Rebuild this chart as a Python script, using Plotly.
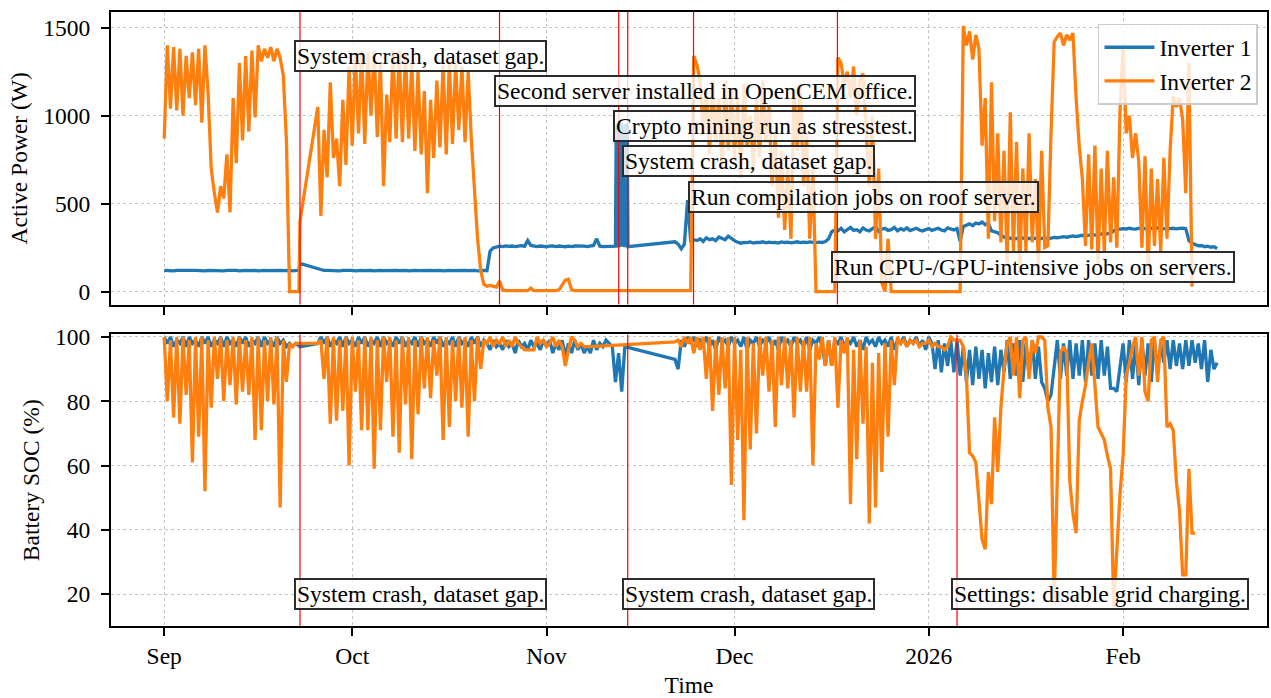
import pandas as pd
import plotly.graph_objects as go

# ---------------------------------------------------------------------------
# Measurements, 12-hourly samples unless noted. Each block starts at its own
# timestamp; gaps between blocks are dataset gaps after system crashes.
# ---------------------------------------------------------------------------

# Inverter 1 active power (W)
p1_a = [121, 119, 120, 118, 121, 120, 119, 121, 118, 120, 121, 119, 120, 118, 121, 120,
        119, 121, 120, 118, 120, 121, 119, 120, 118, 121, 120, 119, 121, 120, 118, 120,
        121, 119, 120, 118, 121, 120, 119, 121, 120, 118, 120, 121]
p1_crash = [160]
p1_b = [130, 124, 120,
        120, 119, 121, 120, 118, 120, 121, 119, 120, 118, 121, 120, 119, 121, 120, 118,
        120, 121, 119, 120, 118, 121, 120, 119, 121, 120, 118, 120, 121, 119, 120, 118,
        121, 120, 119, 121, 120, 118, 120, 121, 119, 120, 118, 121, 120, 119, 121, 120,
        118, 120, 121, 119,
        230,
        248, 255, 258, 256, 260, 257, 259, 256, 258, 261, 257, 290, 262, 258, 256, 259,
        257, 255, 258, 260, 256, 259, 257, 255, 258, 256, 259, 260, 257, 258, 256, 259,
        262, 300, 258, 256]
# crypto mining stress test, 3-hourly samples
p1_crypto = [258, 950, 262, 955, 250, 945, 260, 960, 255, 950, 258, 940, 252, 955, 260, 950, 255]
p1_c = [283, 270, 243, 270, 520, 290,
        295, 290, 300, 285, 305, 295, 300, 290, 310, 300, 295, 315, 300, 290,
        280, 275, 280, 278, 282, 276, 280, 279, 283, 277, 281, 278, 280, 276, 282, 279,
        281, 277, 280, 283, 278, 281, 279, 282, 280, 278, 281, 279,
        285, 300, 340,
        350, 345, 360, 340, 355, 365, 348, 352, 340, 362, 350, 345, 358, 370, 342, 355,
        360, 348, 352, 365, 345, 358, 350, 362, 347, 355, 360, 350, 345, 352, 358, 348,
        355, 360, 350, 345, 362, 355, 350, 358,
        285,
        370, 380, 385, 375, 390, 385, 395, 380, 390,
        345, 340, 335, 320, 310, 300, 305, 298, 302, 300, 305, 299, 303, 300, 304, 298,
        302, 305, 300,
        305, 308, 306, 310, 312, 309, 314, 316, 313, 318, 320, 317, 322, 324, 321, 326,
        328, 325, 330, 332,
        345, 357, 355, 358, 356, 360, 357, 355, 359, 362, 358, 356, 360, 358, 362, 359,
        357, 361, 358, 360, 357, 359, 361, 358,
        290, 275, 265, 260, 262, 255, 258, 252, 255, 245]

# Inverter 2 active power (W)
p2_a = [870, 1400, 1040, 1390, 1030, 1380, 1000, 1340, 1100, 1360, 1060, 1380, 960, 1400,
        1130, 700, 560, 450, 600, 530, 780, 450, 1100, 730, 1300, 860, 1340, 910, 1370,
        990, 1400, 1310, 1380, 1330, 1390, 1310, 1380, 1330, 1230, 860, 0, 0, 0, 0]
p2_crash = [400]
p2_b = [1050, 430, 920, 650, 1190, 760, 870, 600, 1090, 720, 1280, 830, 1350, 900, 1370,
        840, 1360, 1000, 1370, 880, 1300, 600, 1120, 850, 1370, 870, 1370, 850, 1360, 870,
        1300, 800, 1250, 780, 1140, 560, 1090, 760, 1200, 820, 1290, 780, 1310, 840, 1300,
        920, 1280, 850, 1250, 870, 600, 300, 120, 40, 30, 35, 30, 25, 60,
        10, 5, 5, 5, 5, 5, 5, 5, 5, 20, 5, 5, 5, 5, 5, 5, 5, 5, 10, 35, 65, 70, 10, 5,
        5, 5, 5, 5, 5, 5, 5, 5, 5, 5, 5, 5, 5, 5, 5, 5]
p2_c = [5, 5, 5, 5, 5, 5,
        1340, 1290, 1200, 900, 1150, 780, 1200, 850, 1100, 700, 1200, 800, 1150, 750, 1100,
        650, 1180, 820, 1000, 700, 1100, 760, 1200, 850, 1050, 600, 900, 420, 800, 350,
        700, 300, 1150, 800, 1180, 600, 900, 300, 700,
        0, 0, 0, 0, 0, 0, 0,
        1330, 1300, 1180, 1250, 1100, 1280, 1000, 1200, 1240, 900, 600, 1000, 300, 700,
        50, 0, 300,
        0, 0, 0, 0, 0, 0, 0, 0, 0, 0, 0, 0, 0, 0, 0, 0, 0, 0, 0, 0, 0, 0, 0,
        1510, 1400, 1480, 1320, 1460, 1380, 830, 1100, 300, 1190, 400, 900, 280, 800, 160,
        1020, 230, 850, 110, 700, 230, 900, 280, 640, 150, 800, 250, 260, 900, 1420,
        1450, 1470, 1400, 1460, 1430, 1470, 1100, 830, 640, 260, 780, 240, 830, 160, 700,
        230, 800, 280, 650, 250, 1020, 1400, 900, 1000, 760, 900, 740, 250, 770, 130,
        700, 260, 640, 230, 760, 300, 800, 1110, 1050, 1100, 980, 560, 1300, 28]

# Inverter 1 battery state of charge (%)
s1_a = [100, 98, 100, 97, 99, 98, 100, 97, 100, 98, 99, 97, 100, 98, 100, 97, 99, 98, 100,
        97, 100, 98, 99, 97, 100, 98, 100, 97, 99, 98, 100, 97, 100, 98, 99, 97, 100, 98,
        99, 97, 98, 97, 98, 97]
s1_crash = [97]
s1_b = [98, 100, 98, 100, 97, 99, 98, 100, 97, 100, 98, 99, 97, 100, 98, 100, 97, 99, 98,
        100, 97, 100, 98, 99, 97, 100, 98, 100, 97, 99, 98, 100, 97, 100, 98, 99, 97, 100,
        98, 100, 97, 99, 98, 100, 97, 100, 98, 99, 97, 100, 98, 100, 97, 99,
        98, 96, 99, 97, 98, 96, 99, 97, 98, 95, 99, 97, 98, 96, 99, 97, 98, 96, 99, 97,
        99, 95, 98, 96, 99, 94, 98, 95, 99, 96, 98, 95, 97, 95, 99, 96, 98, 97, 99, 98,
        97, 86, 95, 83, 97]
s1_c = [93, 90, 99, 97, 100, 98,
        100, 97, 99, 98, 100, 97, 99, 96, 100, 98, 99, 97, 100, 98, 99, 97, 100, 96, 99,
        98, 100, 97, 99, 98, 100, 97, 99, 96, 100, 98, 99, 97, 100, 98, 99, 97, 100, 96,
        99, 98, 100, 97,
        91, 99, 91, 99,
        98, 100, 97, 99, 98, 100, 97, 99, 96, 100, 98, 99, 97, 100, 98, 99, 97, 100, 96,
        99, 98, 100, 97, 99, 98, 100, 97, 99, 96, 100, 98,
        90, 99, 89, 98, 91, 99, 89, 99, 88, 97, 86, 96, 85, 97, 87, 96, 84, 95, 86, 97,
        85, 96, 89, 99, 87, 98, 88, 99, 86, 98, 88, 99, 87, 97, 86, 84, 80, 82, 90, 99,
        87, 98, 88, 99, 87, 98, 88, 99, 86, 99, 88, 98, 87, 99, 88, 97, 84, 84, 83, 90,
        98, 86, 99, 87, 98, 85, 99, 88, 98, 86, 99, 89, 98, 92, 99, 90, 99, 91, 98, 90,
        99, 91, 99, 92, 98, 90, 99, 86, 96, 90, 92]

# Inverter 2 battery state of charge (%)
s2_a = [100, 80, 99, 75, 100, 73, 100, 82, 99, 61, 100, 69, 100, 52, 99, 78, 100, 87, 100,
        80, 99, 85, 100, 79, 100, 83, 99, 82, 100, 68, 100, 71, 99, 80, 100, 79, 100, 47,
        99, 86, 98, 97, 98, 98]
s2_crash = [98]
s2_b = [98, 99, 87, 100, 73, 100, 74, 99, 77, 100, 60, 100, 83, 99, 71, 100, 71, 100, 59,
        99, 71, 100, 86, 100, 69, 99, 64, 100, 79, 100, 62, 99, 76, 100, 84, 100, 81, 99,
        88, 100, 68, 100, 72, 99, 80, 100, 78, 100, 69, 99, 80, 100, 90, 99,
        98, 100, 97, 99, 98, 100, 97, 99, 97, 100, 98, 97, 96, 96, 96, 96, 100, 98, 99,
        97, 98, 100, 97, 99, 97, 91, 96, 100, 99, 97, 98, 97, 97, 97]
s2_c = [98.5, 99, 97, 100, 98, 100, 95, 100, 96, 100, 87, 100, 77, 99, 82, 100, 84, 100,
        54, 100, 68, 96, 43, 100, 65, 98, 70, 100, 88, 100, 83, 99, 72, 100, 85, 100, 84,
        99, 75, 100, 83, 99, 83, 100, 60, 98, 93, 100, 91, 99, 91, 100, 78, 99, 95, 100,
        48, 96, 62, 99, 73, 97, 42, 92, 47, 95, 58, 98, 69, 99, 85, 100, 98, 99, 97, 99,
        98, 99, 97, 98, 98, 99, 97, 98, 97, 97, 96, 97, 100, 99,
        99, 99, 97, 88, 64, 63, 61, 48, 37, 34, 58, 48, 75, 58, 78, 90, 98, 100, 88, 100,
        81, 99, 100, 87, 99, 95, 100,
        100, 99, 78, 72, 17, 60, 95, 97, 95, 55, 45, 39, 74, 80, 85, 92, 98, 85, 72, 70,
        68, 63, 59, 16, 35, 51, 63, 88, 92, 97, 100, 88, 100, 83, 80, 99, 100, 86, 99,
        100, 72, 73, 71, 55, 46, 26, 26, 59, 39, 39]

# Block start times (sampling period in hours)
power1_blocks = [("2025-09-01 00:00", 12, p1_a), ("2025-09-22 16:00", 12, p1_crash),
                 ("2025-09-25 12:00", 12, p1_b), ("2025-11-12 00:00", 3, p1_crypto),
                 ("2025-11-21 12:00", 12, p1_c)]
power2_blocks = [("2025-09-01 00:00", 12, p2_a), ("2025-09-22 16:00", 12, p2_crash),
                 ("2025-09-25 12:00", 12, p2_b), ("2025-11-21 12:00", 12, p2_c)]
soc1_blocks = [("2025-09-01 00:00", 12, s1_a), ("2025-09-22 16:00", 12, s1_crash),
               ("2025-09-25 12:00", 12, s1_b), ("2025-11-21 12:00", 12, s1_c)]
soc2_blocks = [("2025-09-01 00:00", 12, s2_a), ("2025-09-22 16:00", 12, s2_crash),
               ("2025-09-25 12:00", 12, s2_b), ("2025-11-21 12:00", 12, s2_c)]

# Events
power_events = [("2025-09-22 16:00", 1340, "System crash, dataset gap."),
                ("2025-10-24 12:00", 1140, "Second server installed in OpenCEM office."),
                ("2025-11-12 12:30", 940, "Crypto mining run as stresstest."),
                ("2025-11-13 23:00", 740, "System crash, dataset gap."),
                ("2025-11-24 11:00", 540, "Run compilation jobs on roof server."),
                ("2025-12-17 10:00", 140, "Run CPU-/GPU-intensive jobs on servers.")]
soc_events = [("2025-09-22 16:00", 20, "System crash, dataset gap."),
              ("2025-11-13 23:00", 20, "System crash, dataset gap."),
              ("2026-01-05 12:00", 20, "Settings: disable grid charging.")]

month_ticks = ["2025-09-01", "2025-10-01", "2025-11-01", "2025-12-01", "2026-01-01", "2026-02-01"]
month_labels = ["Sep", "Oct", "Nov", "Dec", "2026", "Feb"]

BLUE = "#1f77b4"
ORANGE = "#ff7f0e"
FONT = "Liberation Serif"
FS = 23.5


def series(blocks):
    xs, ys = [], []
    for start, hours, vals in blocks:
        t = pd.date_range(start, periods=len(vals), freq=f"{hours}h")
        xs.extend(t)
        ys.extend(vals)
    return xs, ys


fig = go.Figure()
for blocks, name, color, ax, show in [
    (power1_blocks, "Inverter 1", BLUE, "", True),
    (power2_blocks, "Inverter 2", ORANGE, "", True),
    (soc1_blocks, "Inverter 1", BLUE, "2", False),
    (soc2_blocks, "Inverter 2", ORANGE, "2", False),
]:
    x, y = series(blocks)
    fig.add_trace(go.Scatter(x=x, y=y, mode="lines", name=name, showlegend=show,
                             line=dict(color=color, width=3.3),
                             xaxis="x" + ax, yaxis="y" + ax))

t0 = pd.Timestamp("2025-09-01")
x_range = [t0 - pd.Timedelta(days=8.49), t0 + pd.Timedelta(days=175.96)]

annotations = []
shapes = []
for events, ax in [(power_events, ""), (soc_events, "2")]:
    for when, yv, text in events:
        shapes.append(dict(type="line", xref="x" + ax, yref=f"y{ax} domain",
                           x0=when, x1=when, y0=0, y1=1,
                           line=dict(color="#ff0000", width=1.2), layer="above"))
        annotations.append(dict(x=when, y=yv, xref="x" + ax, yref="y" + ax, text=text,
                                showarrow=False, xanchor="left", yanchor="middle",
                                xshift=-6, font=dict(family=FONT, size=FS, color="black"),
                                bgcolor="rgba(255,255,255,0.8)", bordercolor="#2b2b2b",
                                borderwidth=2, borderpad=1))

common_x = dict(type="date", range=x_range, tickvals=month_ticks, ticktext=month_labels,
                ticks="outside", ticklen=8, tickwidth=1.5, tickcolor="black",
                showline=True, mirror=True, linecolor="black", linewidth=2,
                showgrid=True, gridcolor="#c4c4c4", griddash="dot", gridwidth=1.4,
                zeroline=False, tickfont=dict(family=FONT, size=FS, color="black"))
common_y = dict(ticks="outside", ticklen=8, tickwidth=1.5, tickcolor="black",
                showline=True, mirror=True, linecolor="black", linewidth=2,
                showgrid=True, gridcolor="#c4c4c4", griddash="dot", gridwidth=1.4,
                zeroline=False, tickfont=dict(family=FONT, size=FS, color="black"),
                ticklabelstandoff=6)

fig.update_layout(
    width=1271, height=698,
    margin=dict(l=111, r=2, t=9, b=72),
    paper_bgcolor="white", plot_bgcolor="white",
    font=dict(family=FONT, size=FS, color="black"),
    xaxis=dict(common_x, anchor="y", showticklabels=False, domain=[0, 1]),
    xaxis2=dict(common_x, anchor="y2", matches="x", domain=[0, 1],
                title=dict(text="Time", font=dict(family=FONT, size=FS), standoff=9)),
    yaxis=dict(common_y, domain=[0.5235, 1], range=[-74, 1590], tickvals=[0, 500, 1000, 1500],
               title=dict(text="Active Power (W)", font=dict(family=FONT, size=FS), standoff=9)),
    yaxis2=dict(common_y, domain=[0, 0.4749], range=[10.1, 100.8],
                tickvals=[20, 40, 60, 80, 100],
                title=dict(text="Battery SOC (%)", font=dict(family=FONT, size=FS), standoff=9)),
    legend=dict(x=0.9922, y=0.9805, xanchor="right", yanchor="top", tracegroupgap=0,
                bgcolor="rgba(255,255,255,0.8)", bordercolor="#cccccc", borderwidth=1.5,
                font=dict(family=FONT, size=FS, color="black"), itemwidth=50),
    shapes=shapes,
    annotations=annotations,
    showlegend=True,
)

fig.write_html("out.html")
